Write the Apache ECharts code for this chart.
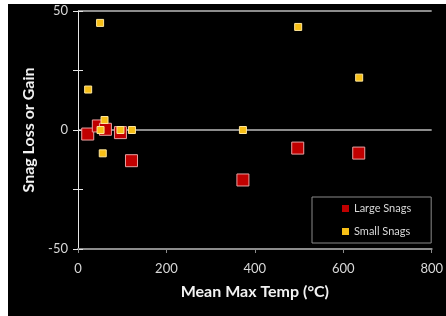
<!DOCTYPE html>
<html><head><meta charset="utf-8">
<script src="https://cdn.jsdelivr.net/npm/echarts@6/dist/echarts.min.js"></script>
<style>
html,body{margin:0;padding:0;background:#fff;width:446px;height:316px;overflow:hidden}
#c{position:absolute;left:8px;top:4px;width:438px;height:312px;background:#000}
</style></head>
<body><div id="c"></div>
<script>
const largeTemp = [22, 46, 62, 96, 121, 373, 497, 635];
const largeChange = [-1.7, 1.7, 0.3, -1.1, -12.9, -21, -7.6, -9.7];
const smallTemp = [50, 23, 60, 51, 96, 122, 56, 373, 498, 636];
const smallChange = [45, 17, 4.2, 0, 0, 0, -9.8, 0, 43.3, 22];
const xTicks = [0, 200, 400, 600, 800];
const yTicks = [-50, 0, 50];

const chart = echarts.init(document.getElementById('c'), null, {renderer: 'canvas'});
const font = 'Lato, "Open Sans", sans-serif';
const pair = (xs, ys) => xs.map((x, i) => [x, ys[i]]);
chart.setOption({
  backgroundColor: '#000',
  animation: false,
  grid: {left: 70, right: 13, top: 7, bottom: 67},
  legend: {
    orient: 'vertical', left: 304, top: 193,
    padding: [6, 20, 6, 30], itemGap: 12,
    borderColor: '#8a8a8a', borderWidth: 1,
    itemWidth: 7, itemHeight: 7,
    itemStyle: {borderWidth: 0},
    textStyle: {color: '#d8d8d8', fontSize: 11, fontFamily: font},
    data: [{name: 'Large Snags', icon: 'rect'}, {name: 'Small Snags', icon: 'rect'}]
  },
  xAxis: {
    type: 'value', min: xTicks[0], max: xTicks[xTicks.length - 1], interval: 200,
    name: 'Mean Max Temp (°C)', nameLocation: 'middle', nameGap: 35,
    nameTextStyle: {color: '#f2f2f2', fontSize: 16, fontWeight: 'bold', fontFamily: font},
    axisLine: {onZero: false, lineStyle: {color: '#8c8c8c', width: 2}},
    axisTick: {show: true, length: 4, lineStyle: {color: '#8c8c8c'}},
    axisLabel: {color: '#d8d8d8', fontSize: 13, margin: 13, fontFamily: font},
    splitLine: {show: false}
  },
  yAxis: [{
    type: 'value', min: -50, max: 50, interval: 25,
    name: 'Snag Loss or Gain', nameLocation: 'middle', nameGap: 39,
    nameTextStyle: {color: '#f2f2f2', fontSize: 16, fontWeight: 'bold', fontFamily: font},
    axisLine: {show: true, onZero: false, lineStyle: {color: '#e6e6e6', width: 1}},
    axisTick: {show: true, length: 5, lineStyle: {color: '#e6e6e6'}},
    axisLabel: {color: '#d8d8d8', fontSize: 13, margin: 10, fontFamily: font,
      formatter: v => yTicks.includes(v) ? String(v) : ''},
    splitLine: {show: true, lineStyle: {color: ['#8c8c8c', 'rgba(0,0,0,0)'], width: 2}}
  }, {
    type: 'value', min: -50, max: 50, interval: 25, position: 'left',
    axisLine: {show: false}, axisLabel: {show: false}, splitLine: {show: false},
    axisTick: {show: true, inside: true, length: 5, lineStyle: {color: '#e6e6e6'}}
  }],
  series: [{
    name: 'Large Snags', type: 'scatter', symbol: 'rect', symbolSize: 12,
    itemStyle: {color: '#c00000', borderColor: '#e8a0a0', borderWidth: 1, opacity: 1},
    data: pair(largeTemp, largeChange), z: 2
  }, {
    name: 'Small Snags', type: 'scatter', symbol: 'rect', symbolSize: 7,
    itemStyle: {color: '#f7bf16', borderColor: '#ffe69a', borderWidth: 1, opacity: 1},
    data: pair(smallTemp, smallChange), z: 3
  }]
});
</script></body></html>
